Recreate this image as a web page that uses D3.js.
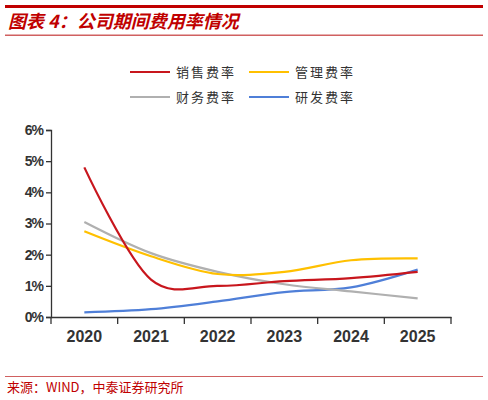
<!DOCTYPE html><html><head><meta charset="utf-8"><script src="https://cdn.jsdelivr.net/npm/d3@7"></script>
<style>body{margin:0;background:#fff}svg{display:block}</style></head><body><svg width="488" height="400"></svg>
<script>
const years=["2020","2021","2022","2023","2024","2025"];
const seriesNames=["销售费率","管理费率","财务费率","研发费率"];
const sales=[4.8,1.2,1.0,1.15,1.25,1.45];
const mgmt=[2.75,1.95,1.38,1.45,1.82,1.88];
const fin=[3.05,2.05,1.45,1.05,0.82,0.6];
const rnd=[0.15,0.25,0.5,0.8,0.95,1.52];
const yTicks=[0,1,2,3,4,5,6];
const colors=["#c8161d","#ffc000","#b0b0b0","#4f7fd8"];
const data=[sales,mgmt,fin,rnd];
const svg=d3.select("svg");
svg.append("rect").attr("x",5).attr("y",5).attr("width",478).attr("height",3).attr("fill","#c00000");
svg.append("text").attr("x",8).attr("y",28).attr("fill","#c00000").attr("font-size",18).attr("font-style","italic").attr("font-weight","bold").attr("font-family","Noto Sans CJK SC").text("图表 4：公司期间费用率情况");
svg.append("rect").attr("x",5).attr("y",34.5).attr("width",478).attr("height",1.5).attr("fill","#d06060");
const x=d3.scaleBand().domain(years).range([51,451]);
const y=d3.scaleLinear().domain([0,6]).range([317,130]);
const xa=svg.append("g").attr("transform","translate(0,317)").call(d3.axisBottom(x).tickSize(0).tickPadding(14));
xa.select(".domain").attr("stroke","#333").attr("stroke-width",1.3);
xa.selectAll("text").attr("font-size",16).attr("fill","#333").attr("font-weight","bold").attr("font-family","Liberation Sans, Arial");
svg.append("g").selectAll("line").data([...years.map(d=>x(d)),451]).join("line").attr("x1",d=>d).attr("x2",d=>d).attr("y1",317).attr("y2",324).attr("stroke","#333").attr("stroke-width",1.3);
const ya=svg.append("g").attr("transform","translate(51,0)").call(d3.axisLeft(y).tickValues(yTicks).tickFormat(d=>d+"%").tickSize(5).tickPadding(3));
ya.select(".domain").attr("stroke","#333").attr("stroke-width",1.3);
ya.selectAll("line").attr("stroke","#333").attr("stroke-width",1.3);
ya.selectAll("text").attr("font-size",14).attr("fill","#333").attr("font-weight","bold").attr("font-family","Liberation Sans, Arial").attr("letter-spacing","-1");
const line=d3.line().x((d,i)=>x(years[i])+x.bandwidth()/2).y(d=>y(d)).curve(d3.curveCatmullRom.alpha(0.1));
data.slice().reverse().forEach((s,k)=>{const i=3-k;svg.append("path").attr("d",line(s)).attr("fill","none").attr("stroke",colors[i]).attr("stroke-width",2.2);});
const lp=[[130,72],[249,72],[130,97],[249,97]];
seriesNames.forEach((n,i)=>{const g=svg.append("g");g.append("line").attr("x1",lp[i][0]).attr("x2",lp[i][0]+40).attr("y1",lp[i][1]).attr("y2",lp[i][1]).attr("stroke",colors[i]).attr("stroke-width",2.2);
g.append("text").attr("x",lp[i][0]+46).attr("y",lp[i][1]+5).attr("font-size",13).attr("fill","#333").attr("letter-spacing","2").attr("font-family","Noto Sans CJK SC").text(n);});
svg.append("rect").attr("x",5).attr("y",376).attr("width",478).attr("height",1).attr("fill","#d06060");
svg.append("text").attr("x",7).attr("y",392).attr("fill","#c00000").attr("font-size",13).attr("font-family","Noto Sans CJK SC").text("来源：WIND，中泰证券研究所");
</script></body></html>
